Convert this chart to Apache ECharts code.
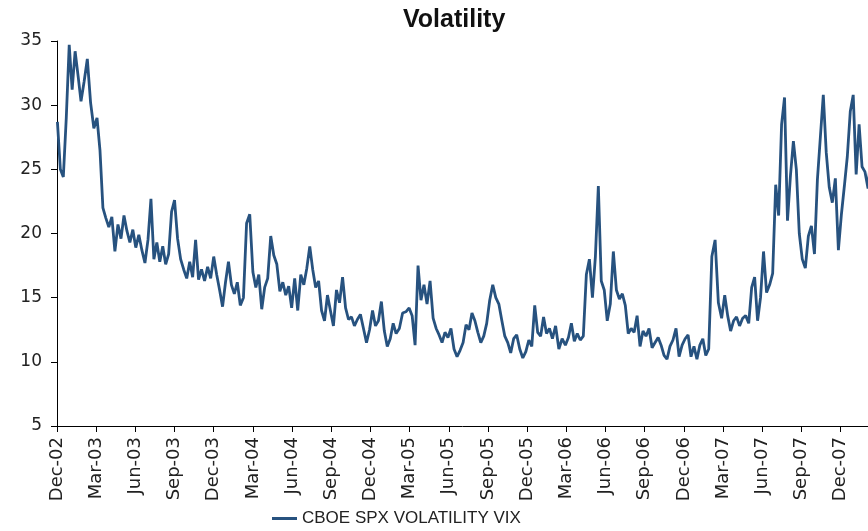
<!DOCTYPE html>
<html>
<head>
<meta charset="utf-8">
<script src="https://cdn.jsdelivr.net/npm/echarts@6/dist/echarts.min.js"></script>
<style>
  html, body { margin: 0; padding: 0; background: #fff; }
  #chart { width: 868px; height: 531px; }
</style>
</head>
<body>
<div id="chart"></div>
<script>
// weekly readings of the VIX close, first week starting 2 Dec 2002
const startDate = "2002-12-02";
const vix2003a = [28.7, 25.0, 24.4, 29.0, 34.7, 31.2, 34.2, 32.3, 30.3, 31.8, 33.6, 30.2, 28.2, 29.0, 26.5, 22.0,
  21.2, 20.5, 21.3, 18.6, 20.7, 19.6, 21.4, 20.2, 19.3, 20.3, 18.9, 19.9, 18.7, 17.7, 19.5, 22.7, 18.0, 19.3, 17.8,
  19.0, 17.6, 18.4, 21.7, 22.6];
const vix2004 = [19.6, 18.0, 17.2, 16.5, 17.8, 16.6, 19.5, 16.4, 17.2, 16.3, 17.4, 16.5, 18.2, 16.8, 15.6, 14.3,
  16.2, 17.8, 16.0, 15.3, 16.2, 14.4, 15.0, 20.8, 21.5, 17.0, 15.8, 16.8, 14.1, 15.8, 16.5, 19.8, 18.3, 17.6, 15.5,
  16.2, 15.2, 15.9, 14.2, 16.5, 14.0, 16.8, 16.0, 17.3, 19.0, 17.2, 15.8, 16.3, 14.0, 13.2, 15.2, 14.0, 12.8];
const vix2005 = [15.6, 14.6, 16.6, 14.2, 13.3, 13.5, 12.8, 13.3, 13.7, 12.6, 11.5, 12.5, 14.0, 12.8, 13.2, 14.7,
  12.4, 11.2, 11.8, 13.0, 12.2, 12.6, 13.8, 13.9, 14.2, 13.6, 11.3, 17.5, 14.8, 16.0, 14.5, 16.3, 13.4, 12.6, 12.1,
  11.5, 12.3, 11.9, 12.6, 11.0, 10.4, 10.9, 11.5, 12.9, 12.5, 13.8, 13.2, 12.3, 11.5, 12.0, 13.0, 14.8, 16.0];
const vix2006 = [15.0, 14.5, 13.2, 12.0, 11.5, 10.7, 11.8, 12.1, 11.0, 10.3, 10.8, 11.7, 11.2, 14.4, 12.3, 12.0,
  13.5, 12.2, 12.6, 11.8, 12.8, 11.0, 11.8, 11.3, 11.9, 13.0, 11.6, 12.2, 11.7, 12.0, 16.8, 18.0, 15.0, 18.2, 23.7,
  16.3, 15.6, 13.2, 14.5, 18.6, 15.6, 14.9, 15.3, 14.4, 12.2, 12.6, 12.3, 13.6, 11.2, 12.4, 12.0, 12.6, 11.1];
const vix2007 = [11.5, 11.9, 11.3, 10.5, 10.2, 11.2, 11.7, 12.6, 10.4, 11.3, 11.8, 12.1, 10.4, 11.2, 10.2, 11.3,
  11.8, 10.5, 11.0, 18.2, 19.5, 14.6, 13.4, 15.2, 13.6, 12.4, 13.2, 13.5, 12.8, 13.4, 13.6, 13.0, 15.8, 16.6, 13.2,
  15.0, 18.6, 15.4, 16.0, 16.9, 23.8, 21.4, 28.5, 30.6, 21.0, 24.5, 27.2, 25.0, 20.0, 18.0, 17.3, 19.8, 20.6];
const vix2008 = [18.4, 24.2, 27.5, 30.8, 26.3, 23.6, 22.4, 24.3, 18.7, 21.5, 23.7, 26.0, 29.5, 30.8, 24.6, 28.5,
  25.2, 24.8, 23.5, 26.5];
const vixValues = [].concat(vix2003a, vix2004, vix2005, vix2006, vix2007, vix2008);

const xTickLabels = ["Dec-02", "Mar-03", "Jun-03", "Sep-03", "Dec-03", "Mar-04", "Jun-04", "Sep-04", "Dec-04",
  "Mar-05", "Jun-05", "Sep-05", "Dec-05", "Mar-06", "Jun-06", "Sep-06", "Dec-06", "Mar-07", "Jun-07", "Sep-07", "Dec-07"];
const seriesName = "CBOE SPX VOLATILITY VIX";

// months since 1 Dec 2002 (x axis is in months)
function monthPos(d) {
  const y = d.getUTCFullYear(), m = d.getUTCMonth();
  const dim = new Date(Date.UTC(y, m + 1, 0)).getUTCDate();
  return (y - 2002) * 12 + (m - 11) + (d.getUTCDate() - 1) / dim;
}
const t0 = new Date(startDate + "T00:00:00Z").getTime();
const seriesData = vixValues.map((v, i) => [monthPos(new Date(t0 + i * 7 * 86400000)), v]);

const myChart = echarts.init(document.getElementById("chart"));
const axisFont = { fontFamily: "DejaVu Sans", fontSize: 17, color: "#222" };
const option = {
  animation: false,
  title: {
    text: "Volatility",
    left: 403,
    top: 8,
    padding: 0,
    textStyle: { fontFamily: "Liberation Sans", fontWeight: "bold", fontSize: 25, color: "#111" },
  },
  legend: {
    left: 272,
    top: 510,
    padding: 0,
    icon: "rect",
    itemWidth: 25,
    itemHeight: 3,
    textStyle: { fontFamily: "Liberation Sans", fontSize: 17, color: "#222" },
    data: [seriesName],
  },
  grid: { left: 57, right: 0, top: 41, bottom: 105 },
  xAxis: {
    type: "value",
    min: 0,
    max: 62.1,
    interval: 3,
    axisLine: { lineStyle: { color: "#000", width: 1 } },
    axisTick: { show: true, length: 6, lineStyle: { color: "#000" } },
    splitLine: { show: false },
    axisLabel: {
      ...axisFont,
      fontSize: 18,
      rotate: 90,
      margin: 11,
      showMaxLabel: false,
      formatter: (v) => xTickLabels[Math.round(v / 3)] || "",
    },
  },
  yAxis: {
    type: "value",
    min: 5,
    max: 35,
    interval: 5,
    axisLine: { show: true, lineStyle: { color: "#000", width: 1 } },
    axisTick: { show: true, length: 6, lineStyle: { color: "#000" } },
    splitLine: { show: false },
    axisLabel: { ...axisFont, margin: 15 },
  },
  series: [
    {
      name: seriesName,
      type: "line",
      data: seriesData,
      showSymbol: false,
      symbol: "none",
      clip: true,
      color: "#27527f",
      lineStyle: { color: "#27527f", width: 2.8 },
    },
  ],
};
myChart.setOption(option);
</script>
</body>
</html>
